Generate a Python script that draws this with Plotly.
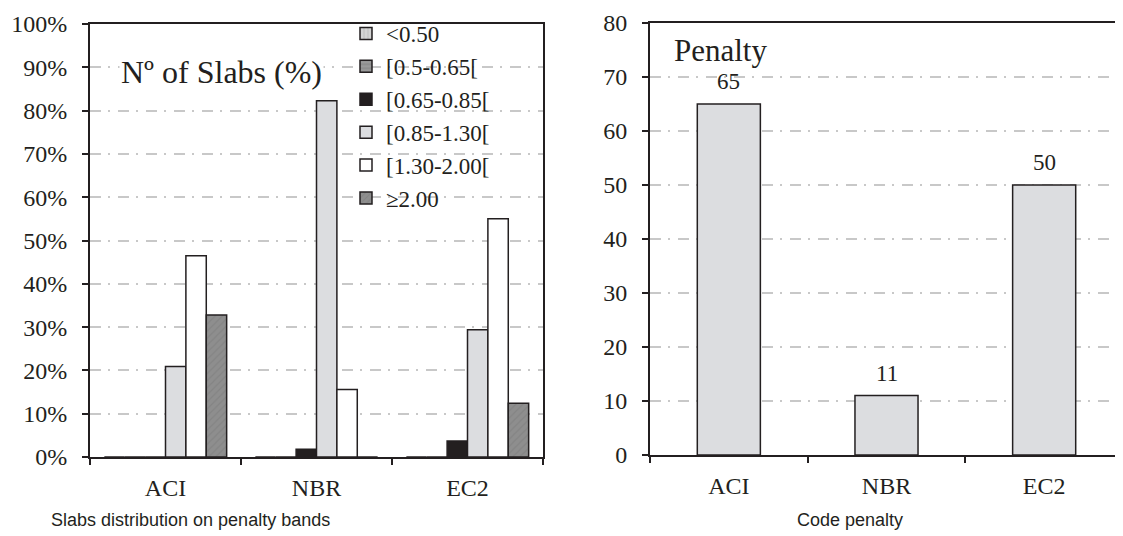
import plotly.graph_objects as go

codes = ["ACI", "NBR", "EC2"]
bands = ["<0.50", "[0.5-0.65[", "[0.65-0.85[", "[0.85-1.30[", "[1.30-2.00[", "≥2.00"]
band_values = [
    [0.0, 0.0, 0.0],      # <0.50
    [0.0, 0.0, 0.0],      # [0.5-0.65[
    [0.0, 0.018, 0.037],  # [0.65-0.85[
    [0.209, 0.823, 0.294],# [0.85-1.30[
    [0.465, 0.156, 0.55], # [1.30-2.00[
    [0.328, 0.0, 0.124],  # >=2.00
]
penalty = [65, 11, 50]

band_fill = ["#d4d4d4", "#9a9a9a", "#231f20", "#dcdde0", "#ffffff", "#8e8e8e"]
band_pattern = ["|", "-", "", "", "", "/"]
band_fg = ["#a8a8a8", "#6a6a6a", "#231f20", "#dcdde0", "#ffffff", "#7a7a7a"]

SERIF = "Liberation Serif"
INK = "#231f20"

# page body has an 8px margin: figure is sized to fit the window
W, H, OFF = 1115, 528, 8
def px(x):
    return (x - OFF) / W
def py(y):
    return 1 - (y - OFF) / H

fig = go.Figure()
for name, vals, col, pat, fg in zip(bands, band_values, band_fill, band_pattern, band_fg):
    fig.add_trace(go.Bar(
        x=codes, y=vals, name=name, xaxis="x", yaxis="y",
        marker=dict(color=col, line=dict(color=INK, width=1.5),
                    pattern=dict(shape=pat, fgcolor=fg, bgcolor=col, size=5, solidity=0.25)),
    ))

fig.add_trace(go.Bar(
    x=codes, y=penalty, xaxis="x2", yaxis="y2", showlegend=False, width=0.4,
    marker=dict(color="#dcdde0", line=dict(color=INK, width=1.5)),
))
for c, v in zip(codes, penalty):
    fig.add_annotation(x=c, y=v, xref="x2", yref="y2", text=str(v), showarrow=False,
                       yanchor="bottom", yshift=8, font=dict(family=SERIF, size=23, color=INK))

axis_common = dict(showline=True, linecolor=INK, linewidth=2, ticks="outside",
                   ticklen=6, tickwidth=1.5, tickcolor=INK, automargin=False,
                   tickfont=dict(family=SERIF, size=24, color=INK))
grid = dict(showgrid=True, gridcolor="#c8c8c8", gridwidth=1.8, griddash="11px,7px,2px,8px")

fig.update_layout(
    width=W, height=H, paper_bgcolor="white", plot_bgcolor="white",
    margin=dict(l=0, r=0, t=0, b=0, autoexpand=False),
    barmode="group", bargap=0.19, bargroupgap=0,
    xaxis=dict(domain=[px(90), px(543)], anchor="y", mirror=True, tickson="boundaries",
               ticklabelstandoff=8, **axis_common),
    yaxis=dict(domain=[py(457), py(24)], anchor="x", range=[0, 1], dtick=0.1,
               tickformat=".0%", mirror=True, zeroline=False, ticklabelstandoff=10,
               **axis_common, **grid),
    xaxis2=dict(domain=[px(650), 1.0], anchor="y2", mirror=True, tickson="boundaries",
                ticklabelstandoff=8, **axis_common),
    yaxis2=dict(domain=[py(455), py(23)], anchor="x2", range=[0, 80], dtick=10,
                zeroline=False, ticklabelstandoff=10, **axis_common, **grid),
    legend=dict(x=px(346), y=py(12), xanchor="left", yanchor="top",
                bgcolor="rgba(255,255,255,0)", tracegroupgap=0,
                font=dict(family=SERIF, size=23, color=INK), itemwidth=30),
    showlegend=True,
)

fig.add_annotation(x=px(119), y=py(72), xref="paper", yref="paper", xanchor="left", yanchor="middle",
                   text="Nº of Slabs (%)", showarrow=False, bgcolor="white",
                   font=dict(family=SERIF, size=32, color=INK))
fig.add_annotation(x=px(672), y=py(50), xref="paper", yref="paper", xanchor="left", yanchor="middle",
                   text="Penalty", showarrow=False,
                   font=dict(family=SERIF, size=31, color=INK))
fig.add_annotation(x=px(190), y=py(520), xref="paper", yref="paper", xanchor="center", yanchor="middle",
                   text="Slabs distribution on penalty bands", showarrow=False,
                   font=dict(family="Liberation Sans", size=18, color=INK))
fig.add_annotation(x=px(850), y=py(520), xref="paper", yref="paper", xanchor="center", yanchor="middle",
                   text="Code penalty", showarrow=False,
                   font=dict(family="Liberation Sans", size=18, color=INK))

fig.write_html("out.html")
